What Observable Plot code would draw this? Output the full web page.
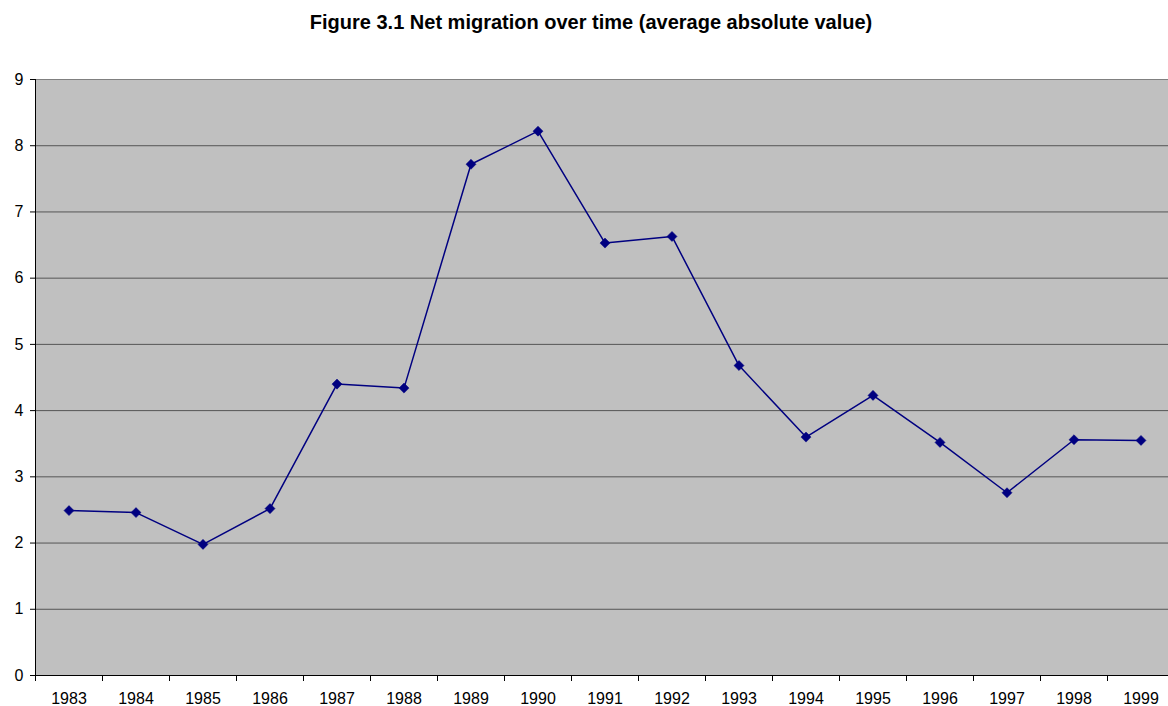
<!DOCTYPE html>
<html>
<head>
<meta charset="utf-8">
<script src="https://cdn.jsdelivr.net/npm/d3@7"></script>
<script src="https://cdn.jsdelivr.net/npm/@observablehq/plot@0.6"></script>
<style>
  html, body { margin: 0; padding: 0; background: #fff; overflow: hidden; }
  #title { height: 40px; width: 1168px; font: bold 20px "Liberation Sans", Arial, sans-serif; text-align: center; line-height: 44px; padding-left: 14px; box-sizing: border-box; color: #000; }
  #chart { width: 1174px; }
  svg { display: block; }
</style>
</head>
<body>
<div id="title">Figure 3.1 Net migration over time (average absolute value)</div>
<div id="chart"></div>
<script>
const years = ["1983","1984","1985","1986","1987","1988","1989","1990","1991","1992","1993","1994","1995","1996","1997","1998","1999"];
const values = [2.49, 2.46, 1.98, 2.52, 4.40, 4.34, 7.72, 8.22, 6.53, 6.63, 4.68, 3.60, 4.23, 3.52, 2.76, 3.56, 3.55];
const yTicks = [0,1,2,3,4,5,6,7,8,9];
const gridLines = [1,2,3,4,5,6,7,8];

const data = years.map((yr, i) => ({i: i + 0.5, year: yr, value: values[i]}));
const boundaries = d3.range(0, years.length + 1);

const chart = Plot.plot({
  width: 1174,
  height: 666,
  marginTop: 39,
  marginBottom: 31,
  marginLeft: 35,
  marginRight: 0,
  style: {fontFamily: "'Liberation Sans', Arial, sans-serif", fontSize: "16px", color: "#000", background: "transparent", overflow: "visible", maxWidth: "none", width: "1174px", height: "666px"},
  x: {type: "linear", domain: [0, years.length]},
  y: {domain: [0, 9]},
  marks: [
    Plot.frame({fill: "#c0c0c0", stroke: null}),
    Plot.ruleY(gridLines, {stroke: "#555", strokeWidth: 1}),
    Plot.ruleY([9], {stroke: "#808080", strokeWidth: 1}),
    Plot.ruleY([0], {stroke: "#000", strokeWidth: 1}),
    Plot.ruleX([0], {stroke: "#000", strokeWidth: 1}),
    Plot.axisY({ticks: yTicks, tickSize: 5, tickPadding: 7, tickFormat: d => String(d), label: null, stroke: "#000", fontSize: 16}),
    Plot.axisX({ticks: boundaries, tickSize: 6, tickFormat: () => "", label: null, stroke: "#000"}),
    Plot.axisX({ticks: data.map(d => d.i), tickSize: 0, tickPadding: 17, tickFormat: d => years[Math.round(d - 0.5)], label: null, fontSize: 16}),
    Plot.line(data, {x: "i", y: "value", stroke: "#000080", strokeWidth: 1.5}),
    Plot.dot(data, {x: "i", y: "value", symbol: "square", rotate: 45, r: 4, fill: "#000080", stroke: "#000080", strokeWidth: 0.5})
  ]
});
document.getElementById("chart").appendChild(chart);
</script>
</body>
</html>
